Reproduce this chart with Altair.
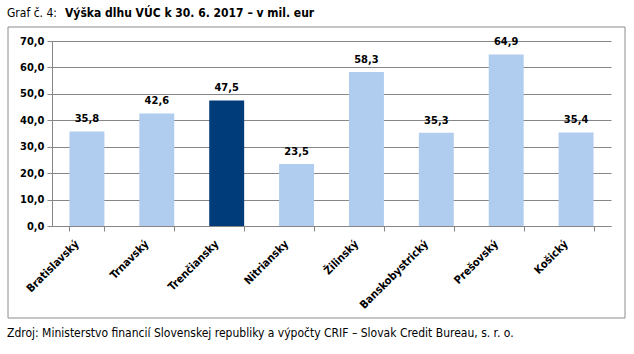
import altair as alt
import pandas as pd

regions = ["Bratislavský", "Trnavský", "Trenčiansky", "Nitriansky", "Žilinský",
           "Banskobystrický", "Prešovský", "Košický"]
values = [35.8, 42.6, 47.5, 23.5, 58.3, 35.3, 64.9, 35.4]
highlight = [False, False, True, False, False, False, False, False]
y_ticks = [0, 10, 20, 30, 40, 50, 60, 70]

df = pd.DataFrame({"region": regions, "value": values, "hl": highlight})
df["label"] = [f"{v:.1f}".replace(".", ",") for v in values]
one = pd.DataFrame({"k": [0]})

FONT = "DejaVu Sans Condensed"
W, H = 559, 185

x = alt.X("region:N", sort=regions, title=None,
          scale=alt.Scale(paddingInner=0.5, paddingOuter=0.25),
          axis=alt.Axis(labelAngle=-45, labelAlign="right", labelBaseline="middle",
                        labelFont=FONT, labelFontSize=11, labelFontWeight="bold",
                        labelColor="#000000", tickBand="extent", tickSize=5,
                        tickColor="#868686", domainColor="#868686", labelPadding=11,
                        labelOffset=-10))
y = alt.Y("value:Q", title=None,
          scale=alt.Scale(domain=[0, 70], nice=False),
          axis=alt.Axis(values=y_ticks, labelExpr="replace(format(datum.value, '.1f'), '.', ',')",
                        labelFont=FONT, labelFontSize=11, labelFontWeight="bold",
                        labelColor="#000000", grid=True, gridColor="#868686",
                        tickColor="#868686", domainColor="#868686", tickSize=5,
                        labelPadding=3, labelOverlap=False))

base = alt.Chart(df)
bars = base.mark_bar().encode(
    x=x, y=y,
    color=alt.Color("hl:N", scale=alt.Scale(domain=[False, True], range=["#B0CCEE", "#003B7A"]),
                    legend=None),
)
labels = base.mark_text(dy=-12, font=FONT, fontSize=11, fontWeight="bold", color="#000000").encode(
    x=x, y=y, text="label:N")

ann = alt.Chart(one)
frame = ann.mark_rect(fill=None, stroke="#8C8C8C", strokeWidth=1).encode(
    x=alt.value(-44), x2=alt.value(573), y=alt.value(-14), y2=alt.value(277))

title1 = ann.mark_text(align="left", baseline="middle", font=FONT, fontSize=12,
                       fontWeight="normal", color="#000000").encode(
    x=alt.value(-45), y=alt.value(-28), text=alt.value("Graf č. 4:"))
title2 = ann.mark_text(align="left", baseline="middle", font=FONT, fontSize=12,
                       fontWeight="bold", color="#000000").encode(
    x=alt.value(13), y=alt.value(-28), text=alt.value("Výška dlhu VÚC k 30. 6. 2017 – v mil. eur"))
source = ann.mark_text(align="left", baseline="middle", font=FONT, fontSize=12,
                       fontWeight="normal", color="#000000").encode(
    x=alt.value(-45), y=alt.value(292),
    text=alt.value("Zdroj: Ministerstvo financií Slovenskej republiky a výpočty CRIF – Slovak Credit Bureau, s. r. o."))

chart = alt.layer(frame, bars, labels, title1, title2, source).properties(
    width=W, height=H,
    padding={"left": 52, "top": 41, "right": 23, "bottom": 128},
    autosize=alt.AutoSizeParams(type="none"),
    background="#FFFFFF",
).configure_view(stroke=None)

chart.save("out.html", embed_options={"renderer": "svg", "actions": False})
